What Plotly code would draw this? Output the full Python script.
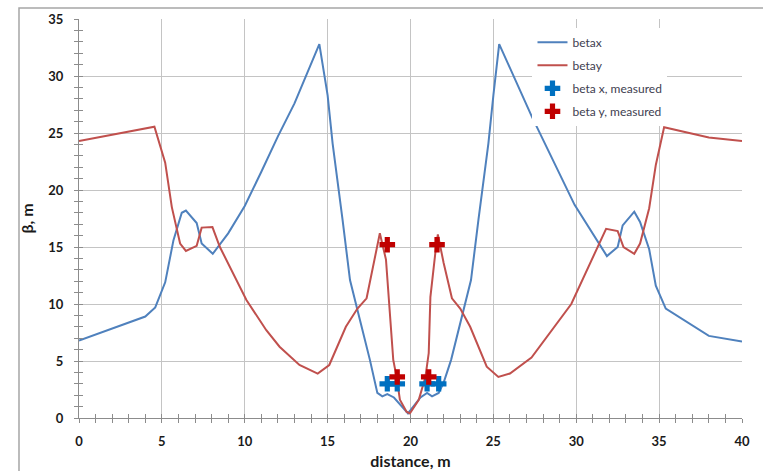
import plotly.graph_objects as go

# ---- data ----
betax_s = [0, 4.0, 4.6, 5.2, 5.7, 6.2, 6.45, 7.1, 7.4, 8.07, 9.0, 10.0, 11.0, 12.0, 13.0, 14.5,
           15.0, 15.3, 15.9, 16.35, 16.95, 17.55, 18.0, 18.3, 18.6, 19.0, 19.85,
           20.6, 21.0, 21.3, 21.7, 22.0, 22.45, 23.05, 23.65, 24.1, 24.7, 25.0, 25.35,
           27.3, 29.9, 31.85, 32.5, 32.8, 33.5, 33.85, 34.4, 34.8, 35.4, 38.0, 40.0]
betax_v = [6.8, 8.9, 9.7, 11.9, 15.6, 18.0, 18.2, 17.1, 15.3, 14.4, 16.2, 18.6, 21.6, 24.7, 27.6, 32.8,
           28.3, 24.1, 17.4, 12.1, 8.6, 5.1, 2.2, 1.9, 2.1, 1.8, 0.4,
           1.8, 2.2, 1.9, 2.2, 3.1, 5.1, 8.6, 12.1, 17.4, 24.1, 28.3, 32.8,
           26.5, 18.7, 14.2, 15.0, 16.9, 18.1, 17.2, 14.8, 11.6, 9.6, 7.2, 6.7]

betay_s = [0, 4.55, 5.2, 5.6, 6.1, 6.45, 7.1, 7.4, 8.05, 8.5, 10.1, 11.3, 12.1, 13.3, 14.4, 15.1,
           16.1, 16.8, 17.35, 18.15, 18.52, 18.76, 18.96, 19.16, 19.36, 19.76, 19.96,
           20.5, 20.9, 21.1, 21.2, 21.5, 21.65, 22.0, 22.5, 23.0, 23.6, 24.6, 25.3, 26.0,
           27.3, 29.7, 31.8, 32.5, 32.85, 33.5, 33.85, 34.4, 34.8, 35.3, 38.0, 40.0]
betay_v = [24.3, 25.55, 22.4, 18.5, 15.3, 14.65, 15.1, 16.7, 16.75, 15.0, 10.35, 7.7, 6.25, 4.65, 3.9, 4.65,
           8.0, 9.6, 10.5, 16.2, 13.9, 8.6, 5.1, 3.6, 1.6, 0.55, 0.4,
           1.6, 3.6, 5.7, 10.6, 14.5, 16.1, 13.6, 10.5, 9.6, 8.0, 4.5, 3.6, 3.9,
           5.3, 10.0, 16.6, 16.4, 15.0, 14.4, 15.3, 18.4, 22.2, 25.5, 24.6, 24.3]

meas_x_s = [18.6, 19.2, 21.0, 21.7]
meas_x_v = [3.0, 3.0, 3.0, 3.0]
meas_y_s = [18.6, 19.2, 21.1, 21.6]
meas_y_v = [15.2, 3.6, 3.6, 15.2]

x_range = [0, 40]
y_range = [0, 35]

FONT = "Lato"
TXT = "#1a1a1a"
GRID = "#c4c4c4"
AX = "#8c8c8c"

fig = go.Figure()
fig.add_trace(go.Scatter(x=betax_s, y=betax_v, mode="lines", name="betax", legendgroup="a",
                         line=dict(color="#4F81BD", width=2)))
fig.add_trace(go.Scatter(x=betay_s, y=betay_v, mode="lines", name="betay", legendgroup="b",
                         line=dict(color="#C0504D", width=2)))
fig.add_trace(go.Scatter(x=meas_x_s, y=meas_x_v, mode="markers", name="beta x, measured",
                         legendgroup="c",
                         marker=dict(symbol="cross", size=13, color="#0070C0", line=dict(width=0))))
fig.add_trace(go.Scatter(x=meas_y_s, y=meas_y_v, mode="markers", name="beta y, measured",
                         legendgroup="d",
                         marker=dict(symbol="cross", size=13, color="#C00000", line=dict(width=0))))
# invisible trace to realise the overlay axes that give the inner half of the crossing ticks
fig.add_trace(go.Scatter(x=[None], y=[None], xaxis="x2", yaxis="y2", showlegend=False,
                         hoverinfo="skip", mode="lines"))

common_tick = dict(ticklen=4, tickwidth=1, tickcolor=AX)
fig.update_layout(
    width=763, height=471,
    margin=dict(l=79, r=21, t=19, b=53, autoexpand=False),
    paper_bgcolor="white", plot_bgcolor="white",
    font=dict(family=FONT, color=TXT),
    showlegend=True,
    legend=dict(x=0.684, y=0.978, xanchor="left", yanchor="top", bgcolor="white",
                font=dict(family=FONT, size=12, color="#404050"), itemwidth=30,
                tracegroupgap=4),
    xaxis=dict(range=x_range, dtick=5, tick0=0, showgrid=True, gridcolor=GRID, gridwidth=1,
               showline=True, linecolor=AX, linewidth=1, zeroline=False, automargin=False,
               ticks="outside", **common_tick,
               minor=dict(dtick=1, ticks="outside", ticklen=4, tickcolor=AX, showgrid=False),
               tickfont=dict(family=FONT, size=13, color=TXT, weight="bold"),
               ticklabelstandoff=7,
               title=dict(text="distance, m", standoff=8,
                          font=dict(family=FONT, size=16, color=TXT, weight="bold"))),
    yaxis=dict(range=y_range, dtick=5, tick0=0, showgrid=True, gridcolor=GRID, gridwidth=1,
               showline=True, linecolor=AX, linewidth=1, zeroline=False, automargin=False,
               ticks="outside", **common_tick,
               minor=dict(dtick=1, ticks="outside", ticklen=4, tickcolor=AX, showgrid=False),
               tickfont=dict(family=FONT, size=13, color=TXT, weight="bold"),
               ticklabelstandoff=8,
               title=dict(text="β, m", standoff=10,
                          font=dict(family=FONT, size=16, color=TXT, weight="bold"))),
    xaxis2=dict(range=x_range, overlaying="x", anchor="y2", side="bottom", dtick=5, tick0=0,
                showgrid=False, showline=False, zeroline=False, showticklabels=False,
                automargin=False, ticks="inside", **common_tick,
                minor=dict(dtick=1, ticks="inside", ticklen=4, tickcolor=AX, showgrid=False)),
    yaxis2=dict(range=y_range, overlaying="y", anchor="x2", side="left", dtick=5, tick0=0,
                showgrid=False, showline=False, zeroline=False, showticklabels=False,
                automargin=False, ticks="inside", **common_tick,
                minor=dict(dtick=1, ticks="inside", ticklen=4, tickcolor=AX, showgrid=False)),
    shapes=[dict(type="rect", xref="paper", yref="paper",
                 x0=-0.0905, x1=1.1, y0=-0.3, y1=1.0276,
                 line=dict(color="#a6a6a6", width=1.5), fillcolor="rgba(0,0,0,0)", layer="below")],
)

fig.write_html("out.html")
